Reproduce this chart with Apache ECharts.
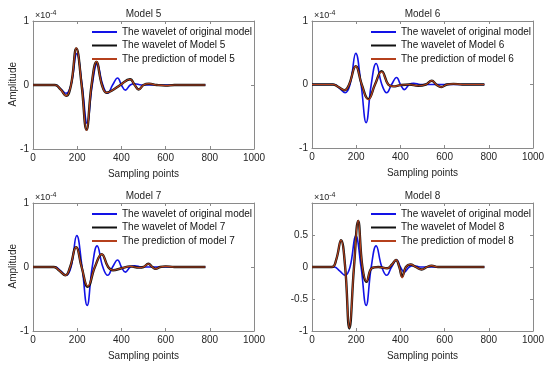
<!DOCTYPE html>
<html><head><meta charset="utf-8">
<script src="https://cdn.jsdelivr.net/npm/echarts@6/dist/echarts.min.js"></script>
<style>html,body{margin:0;padding:0;background:#fff}#c{width:550px;height:368px}</style>
</head><body><div id="c"></div>
<script>
// ---------- data (amplitude in units of 1e-4) ----------
const panelTitles = ['Model 5', 'Model 6', 'Model 7', 'Model 8'];
const legendOriginal = 'The wavelet of original model';
const legendModel = ['The wavelet of Model 5', 'The wavelet of Model 6', 'The wavelet of Model 7', 'The wavelet of Model 8'];
const legendPred = ['The prediction of model 5', 'The prediction of model 6', 'The prediction of model 7', 'The prediction of model 8'];

const origX = [0, 100, 125, 150, 172, 198, 222, 245, 268, 290, 316, 338, 360, 383, 400, 418, 440, 460, 490, 780];
const origY = [0, 0, -0.06, -0.13, 0, 0.49, 0, -0.60, 0, 0.33, 0, -0.13, 0, 0.11, 0, -0.08, 0, 0.02, 0, 0];

const model5X = [0, 100, 125, 150, 172, 196, 220, 242, 265, 287, 312, 333, 365, 395, 439, 460, 478, 500, 525, 560, 600, 640, 780];
const model5Y = [0, 0, -0.07, -0.17, 0, 0.57, 0, -0.70, 0, 0.36, 0, -0.12, -0.07, 0, 0.09, 0, -0.07, 0, 0.02, 0, -0.01, 0, 0];
const pred5Y  = [0, 0, -0.07, -0.17, 0, 0.58, 0, -0.71, 0, 0.37, 0, -0.12, -0.07, 0, 0.09, 0, -0.07, 0, 0.02, 0, -0.01, 0, 0];

const model6X = [0, 95, 120, 148, 168, 198, 225, 255, 285, 315, 345, 368, 400, 440, 480, 515, 542, 562, 585, 610, 640, 680, 780];
const model6Y = [0, 0, -0.04, -0.09, 0, 0.29, 0, -0.23, 0, 0.21, 0, -0.03, -0.01, 0, -0.02, 0, 0.06, 0, -0.04, 0, 0.01, 0, 0];
const pred6Y  = [0, 0, -0.04, -0.09, 0, 0.29, 0, -0.24, 0, 0.20, 0, -0.03, -0.01, 0, -0.02, 0, 0.06, 0, -0.04, 0, 0.01, 0, 0];

const model7X = [0, 95, 120, 147, 168, 195, 220, 248, 280, 311, 340, 362, 400, 440, 480, 500, 522, 540, 555, 575, 600, 640, 780];
const model7Y = [0, 0, -0.06, -0.13, 0, 0.31, 0, -0.31, 0, 0.20, 0, -0.05, -0.02, 0.01, -0.01, 0, 0.05, 0, -0.03, 0, 0.01, 0, 0];
const pred7Y  = [0, 0, -0.06, -0.13, 0, 0.31, 0, -0.30, 0, 0.20, 0, -0.05, -0.02, 0.01, -0.01, 0, 0.05, 0, -0.03, 0, 0.01, 0, 0];

const model8X = [0, 90, 110, 131, 150, 169, 190, 209, 228, 247, 270, 300, 340, 362, 380, 395, 408, 425, 445, 470, 496, 520, 541, 570, 780];
const model8Y = [0, 0, 0.12, 0.42, 0, -0.96, 0, 0.72, 0, -0.23, -0.02, 0, -0.02, 0.04, 0.11, 0, -0.15, 0, 0.04, 0, -0.04, 0, 0.02, 0, 0];
const pred8Y  = [0, 0, 0.12, 0.42, 0, -0.95, 0, 0.73, 0, -0.22, -0.02, 0, -0.02, 0.04, 0.11, 0, -0.17, 0, 0.04, 0, -0.04, 0, 0.02, 0, 0];

const modelX = [model5X, model6X, model7X, model8X];
const modelY = [model5Y, model6Y, model7Y, model8Y];
const predY = [pred5Y, pred6Y, pred7Y, pred8Y];

const xTickStep = 200;
const yRange = [[-1, 1, 1], [-1, 1, 1], [-1, 1, 1], [-1, 1, 0.5]];
const yHiddenLabels = [[], [], [], [1]];

// ---------- layout / style ----------
const FONT = 'Liberation Sans, Arial, sans-serif';
const TXT = '#262626';
const FRAME = '#8a8a8a';
const grids = [
  {left: 33, top: 21, width: 221, height: 128},
  {left: 312, top: 21, width: 221, height: 127},
  {left: 33, top: 203, width: 221, height: 128},
  {left: 312, top: 203, width: 221, height: 128}
];
const showYName = [true, false, true, false];

const pairs = (xs, ys) => xs.map((x, i) => [x, ys[i]]);

const option = {
  animation: false,
  backgroundColor: '#fff',
  textStyle: {fontFamily: FONT},
  grid: grids.map(g => Object.assign({containLabel: false}, g)),
  title: grids.map((g, i) => ({
    text: panelTitles[i], left: g.left + g.width / 2, top: g.top - 12, textAlign: 'center', padding: 0,
    textStyle: {fontSize: 10, fontWeight: 'normal', color: TXT, fontFamily: FONT}
  })),
  legend: grids.map((g, i) => ({
    orient: 'vertical', left: g.left + 58, top: g.top + 2, padding: 0, itemGap: 2.5,
    itemWidth: 25, itemHeight: 12, data: [legendOriginal, legendModel[i], legendPred[i]],
    itemStyle: {opacity: 0},
    textStyle: {fontSize: 10, color: '#111', fontFamily: FONT}, selectedMode: false
  })),
  xAxis: [],
  yAxis: [],
  series: [],
  graphic: []
};

grids.forEach((g, i) => {
  const lineS = {lineStyle: {color: FRAME, width: 1}};
  option.xAxis.push({
    gridIndex: i, type: 'value', min: 0, max: 1000, interval: xTickStep, position: 'bottom',
    axisLine: Object.assign({onZero: false}, lineS),
    axisTick: {inside: true, length: 3, lineStyle: {color: FRAME}},
    splitLine: {show: false},
    axisLabel: {fontSize: 10, color: TXT, margin: 4, fontFamily: FONT, formatter: v => String(v)},
    name: 'Sampling points', nameLocation: 'middle', nameGap: 20,
    nameTextStyle: {fontSize: 10, color: TXT, fontFamily: FONT}
  });
  option.xAxis.push({
    gridIndex: i, type: 'value', min: 0, max: 1000, interval: xTickStep, position: 'top',
    axisLine: Object.assign({onZero: false}, lineS),
    axisTick: {inside: true, length: 3, lineStyle: {color: FRAME}},
    splitLine: {show: false}, axisLabel: {show: false}
  });
  const [ymin, ymax, yint] = yRange[i];
  option.yAxis.push({
    gridIndex: i, type: 'value', min: ymin, max: ymax, interval: yint, position: 'left',
    axisLine: Object.assign({show: true, onZero: false}, lineS),
    axisTick: {show: true, inside: true, length: 3, lineStyle: {color: FRAME}},
    splitLine: {show: false},
    axisLabel: {fontSize: 10, color: TXT, margin: 4, fontFamily: FONT,
      formatter: v => (yHiddenLabels[i].includes(v) ? '' : String(v))},
    name: '{a|×10}{b|-4}', nameLocation: 'end', nameGap: -1,
    nameTextStyle: {align: 'left', padding: [0, 0, 0, 2],
      rich: {a: {fontSize: 9, color: TXT, lineHeight: 12, fontFamily: FONT},
             b: {fontSize: 7, color: TXT, verticalAlign: 'top', fontFamily: FONT}}}
  });
  option.yAxis.push({
    gridIndex: i, type: 'value', min: ymin, max: ymax, interval: yint, position: 'right',
    axisLine: Object.assign({show: true, onZero: false}, lineS),
    axisTick: {show: true, inside: true, length: 3, lineStyle: {color: FRAME}},
    splitLine: {show: false}, axisLabel: {show: false}
  });
  if (showYName[i]) {
    option.graphic.push({
      type: 'text', left: 8, top: g.top + g.height / 2 - 23, rotation: Math.PI / 2,
      style: {text: 'Amplitude', fontSize: 10, fill: TXT, fontFamily: FONT}
    });
  }
  const xi = i * 2, yi = i * 2;
  option.series.push({
    type: 'line', name: legendOriginal, xAxisIndex: xi, yAxisIndex: yi,
    data: pairs(origX, origY), smooth: 0.45, symbol: 'none',
    lineStyle: {color: '#1212e6', width: 1.6}, itemStyle: {color: '#1212e6'}
  });
  option.series.push({
    type: 'line', name: legendModel[i], xAxisIndex: xi, yAxisIndex: yi,
    data: pairs(modelX[i], modelY[i]), smooth: 0.45, symbol: 'none',
    lineStyle: {color: '#111', width: 2.4}, itemStyle: {color: '#111'}
  });
  option.series.push({
    type: 'line', name: legendPred[i], xAxisIndex: xi, yAxisIndex: yi,
    data: pairs(modelX[i], predY[i]), smooth: 0.45, symbol: 'none',
    lineStyle: {color: '#b5401c', width: 1.2}, itemStyle: {color: '#9a3a1c'}
  });
});
// legend rows: shift slightly lower, spacing ~14.5px
option.legend.forEach(l => { l.top += 4; l.itemGap = 3.5; });

const chart = echarts.init(document.getElementById('c'), null, {renderer: 'canvas'});
chart.setOption(option);
</script>
</body></html>
